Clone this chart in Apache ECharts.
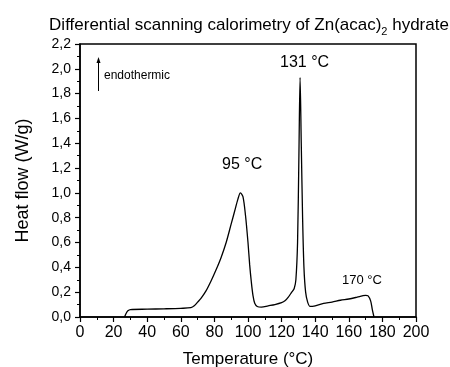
<!DOCTYPE html>
<html><head><meta charset="utf-8">
<script src="https://cdn.jsdelivr.net/npm/echarts@6/dist/echarts.min.js"></script>
<style>html,body{margin:0;padding:0;background:#fff}#c{width:450px;height:367px}</style>
</head><body><div id="c"></div>
<script>
const temperature = [26.5, 27.5, 28.5, 30, 40, 50, 60, 66, 68, 70, 72, 75, 78, 81, 84, 87, 90, 92, 94, 95.5, 97, 98.5, 100, 101, 102, 103, 104, 105.5, 108, 112, 116, 120, 122, 124, 126, 127.5, 128.5, 129.5, 130.3, 131, 131.7, 132.5, 133.3, 134.3, 135.5, 137, 140, 145, 150, 155, 160, 165, 168, 170, 171.5, 173, 174, 175];
const heatFlow = [0, 0.03, 0.05, 0.06, 0.063, 0.066, 0.07, 0.075, 0.09, 0.12, 0.15, 0.21, 0.29, 0.38, 0.48, 0.6, 0.75, 0.85, 0.95, 1.0, 0.97, 0.82, 0.6, 0.42, 0.28, 0.17, 0.11, 0.085, 0.08, 0.09, 0.1, 0.115, 0.13, 0.16, 0.2, 0.23, 0.3, 0.6, 1.3, 1.93, 1.4, 0.8, 0.4, 0.2, 0.12, 0.085, 0.09, 0.11, 0.12, 0.135, 0.145, 0.16, 0.17, 0.175, 0.17, 0.13, 0.06, 0];
const xTicks = [0, 20, 40, 60, 80, 100, 120, 140, 160, 180, 200];
const yTicks = [0, 0.2, 0.4, 0.6, 0.8, 1.0, 1.2, 1.4, 1.6, 1.8, 2.0, 2.2];
const peakLabels = ['95 °C', '131 °C', '170 °C'];

const F = '"Liberation Sans", Arial, sans-serif';
const chart = echarts.init(document.getElementById('c'));
const axisCommon = {
  axisLine: {show: true, lineStyle: {color: '#000', width: 1.5}},
  axisTick: {show: true, inside: false, length: 5, lineStyle: {color: '#000', width: 1.2}},
  minorTick: {show: true, splitNumber: 2, length: 3, lineStyle: {color: '#000', width: 1}},
  splitLine: {show: false}
};
chart.setOption({
  animation: false,
  title: {
    text: 'Differential scanning calorimetry of Zn(acac){s|2} hydrate',
    left: 244, top: 8, textAlign: 'center',
    textStyle: {fontFamily: F, fontSize: 17, fontWeight: 'normal', color: '#000',
      rich: {s: {fontFamily: F, fontSize: 11, verticalAlign: 'bottom', padding: [13, 0, 0, 0], color: '#000'}}}
  },
  grid: {left: 80, right: 34, top: 44, bottom: 50, show: true, borderColor: '#000', borderWidth: 1.5,
    containLabel: false, outerBoundsMode: 'none'},
  xAxis: Object.assign({
    type: 'value', min: 0, max: 200, interval: 20,
    name: 'Temperature (°C)', nameLocation: 'middle', nameGap: 34,
    nameTextStyle: {fontFamily: F, fontSize: 17, color: '#000'},
    axisLabel: {fontFamily: F, fontSize: 16, color: '#000', margin: 8,
      formatter: v => xTicks.includes(v) ? String(v) : ''}
  }, axisCommon),
  yAxis: Object.assign({
    type: 'value', min: 0, max: 2.2, interval: 0.2,
    name: 'Heat flow (W/g)', nameLocation: 'middle', nameGap: 48,
    nameTextStyle: {fontFamily: F, fontSize: 18, color: '#000'},
    axisLabel: {fontFamily: F, fontSize: 14, color: '#000', margin: 9,
      formatter: v => {
        const t = yTicks.find(k => Math.abs(k - v) < 1e-6);
        return t === undefined ? '' : t.toFixed(1).replace('.', ',');
      }}
  }, axisCommon),
  series: [{
    type: 'line', showSymbol: false, smooth: 0.3,
    data: temperature.map((t, i) => [t, heatFlow[i]]),
    lineStyle: {color: '#000', width: 1.3}
  }],
  graphic: [
    {type: 'text', left: 222, top: 157, style: {text: peakLabels[0], font: '16px ' + F, fill: '#000'}},
    {type: 'text', left: 280, top: 55, style: {text: peakLabels[1], font: '16px ' + F, fill: '#000'}},
    {type: 'text', left: 342, top: 274, style: {text: peakLabels[2], font: '13px ' + F, fill: '#000'}},
    {type: 'text', left: 104, top: 70, style: {text: 'endothermic', font: '12px ' + F, fill: '#000'}},
    {type: 'line', shape: {x1: 98.5, y1: 91, x2: 98.5, y2: 62}, style: {stroke: '#000', lineWidth: 1}},
    {type: 'polygon', shape: {points: [[98.5, 57], [96.5, 63], [100.5, 63]]}, style: {fill: '#000'}}
  ]
});
</script></body></html>
